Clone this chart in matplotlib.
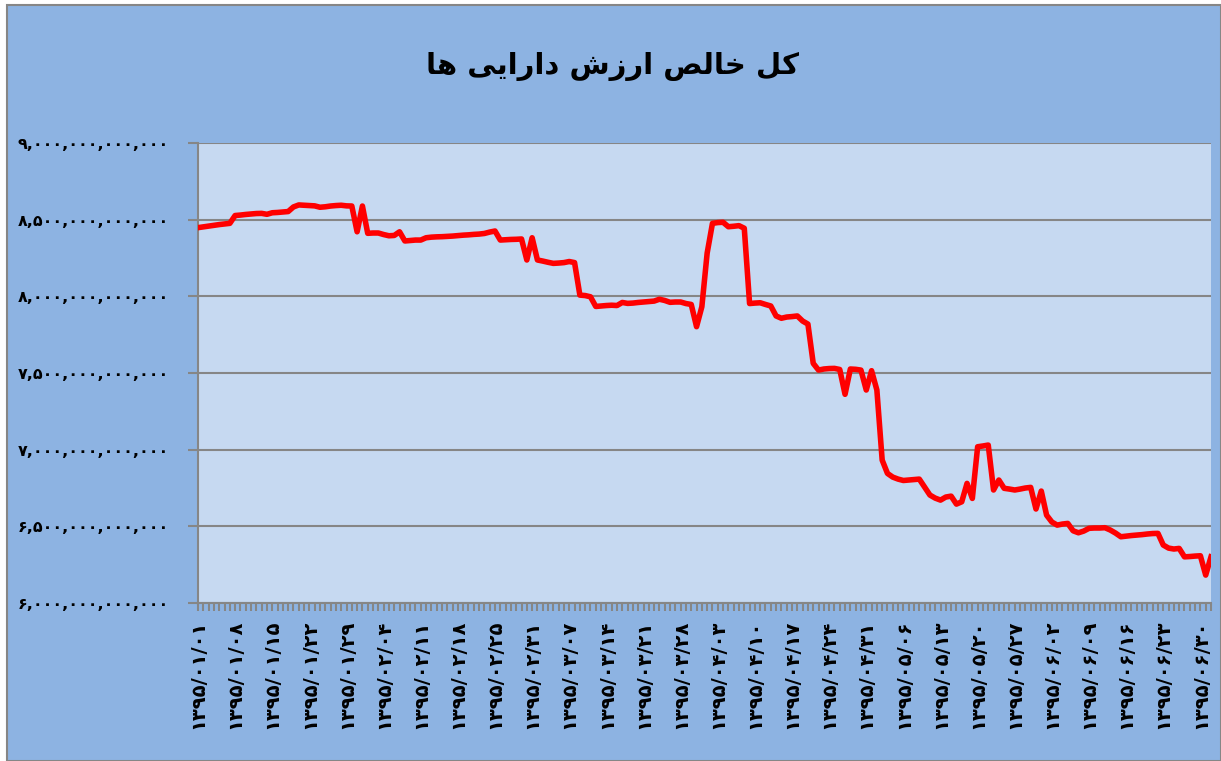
import matplotlib
matplotlib.use('Agg')
import matplotlib.pyplot as plt
from matplotlib.ticker import FuncFormatter, MultipleLocator
from matplotlib.patches import Rectangle

# title "کل خالص ارزش دارایی ها" written with Arabic presentation forms in visual order
# (matplotlib does no Arabic shaping / bidi on its own)
title = "\uFE8E\uFEEB \uFBFD\uFBFE\uFE8D\uFEAD\uFE8D\uFEA9 \uFEB5\uFEAF\uFEAD\uFE8D \uFEBA\uFEDF\uFE8E\uFEA7 \uFEDE\uFB90"

# x tick labels, one every 7 points
tick_labels = [
    "۱۳۹۵/۰۱/۰۱", "۱۳۹۵/۰۱/۰۸", "۱۳۹۵/۰۱/۱۵", "۱۳۹۵/۰۱/۲۲", "۱۳۹۵/۰۱/۲۹",
    "۱۳۹۵/۰۲/۰۴", "۱۳۹۵/۰۲/۱۱", "۱۳۹۵/۰۲/۱۸", "۱۳۹۵/۰۲/۲۵", "۱۳۹۵/۰۲/۳۱",
    "۱۳۹۵/۰۳/۰۷", "۱۳۹۵/۰۳/۱۴", "۱۳۹۵/۰۳/۲۱", "۱۳۹۵/۰۳/۲۸", "۱۳۹۵/۰۴/۰۳",
    "۱۳۹۵/۰۴/۱۰", "۱۳۹۵/۰۴/۱۷", "۱۳۹۵/۰۴/۲۴", "۱۳۹۵/۰۴/۳۱", "۱۳۹۵/۰۵/۰۶",
    "۱۳۹۵/۰۵/۱۳", "۱۳۹۵/۰۵/۲۰", "۱۳۹۵/۰۵/۲۷", "۱۳۹۵/۰۶/۰۲", "۱۳۹۵/۰۶/۰۹",
    "۱۳۹۵/۰۶/۱۶", "۱۳۹۵/۰۶/۲۳", "۱۳۹۵/۰۶/۳۰",
]
label_step = 7

# net asset value, in trillions
nav = [
    8.448, 8.453, 8.458, 8.463, 8.468, 8.472, 8.476, 8.527, 8.530, 8.534,
    8.537, 8.540, 8.541, 8.535, 8.545, 8.547, 8.550, 8.553, 8.583, 8.596,
    8.594, 8.592, 8.590, 8.581, 8.584, 8.589, 8.592, 8.594, 8.590, 8.589,
    8.421, 8.589, 8.411, 8.413, 8.413, 8.403, 8.395, 8.397, 8.421, 8.361,
    8.364, 8.367, 8.367, 8.382, 8.386, 8.388, 8.389, 8.391, 8.393, 8.396,
    8.399, 8.401, 8.404, 8.406, 8.410, 8.419, 8.426, 8.367, 8.369, 8.371,
    8.372, 8.374, 8.237, 8.382, 8.237, 8.230, 8.222, 8.215, 8.217, 8.220,
    8.227, 8.220, 8.008, 8.005, 7.997, 7.934, 7.937, 7.940, 7.942, 7.940,
    7.960, 7.954, 7.956, 7.960, 7.963, 7.966, 7.969, 7.981, 7.973, 7.961,
    7.963, 7.963, 7.953, 7.947, 7.802, 7.932, 8.282, 8.476, 8.481, 8.483,
    8.454, 8.457, 8.461, 8.444, 7.953, 7.956, 7.958, 7.947, 7.937, 7.872,
    7.857, 7.865, 7.868, 7.872, 7.839, 7.819, 7.563, 7.519, 7.526, 7.529,
    7.530, 7.523, 7.361, 7.526, 7.524, 7.519, 7.389, 7.515, 7.389, 6.932,
    6.845, 6.821, 6.808, 6.799, 6.802, 6.805, 6.808, 6.756, 6.704, 6.684,
    6.671, 6.691, 6.697, 6.645, 6.660, 6.780, 6.682, 7.019, 7.024, 7.030,
    6.737, 6.802, 6.748, 6.743, 6.737, 6.743, 6.750, 6.754, 6.613, 6.730,
    6.573, 6.528, 6.508, 6.515, 6.519, 6.471, 6.458, 6.469, 6.487, 6.489,
    6.489, 6.491, 6.476, 6.456, 6.432, 6.436, 6.440, 6.443, 6.446, 6.450,
    6.453, 6.454, 6.378, 6.358, 6.352, 6.356, 6.301, 6.303, 6.306, 6.308,
    6.182, 6.301,
]

FA = str.maketrans("0123456789", "۰۱۲۳۴۵۶۷۸۹")
GRID = '#868686'

W, H = 1221, 761
fig = plt.figure(figsize=(W / 100, H / 100), dpi=100)
fig.patch.set_facecolor('white')
# chart area (blue) with its grey border, behind the axes
fig.patches.append(Rectangle((7 / W, 0), 1 - 7 / W, 1 - 5 / H, transform=fig.transFigure,
                             facecolor='#8DB3E2', edgecolor=GRID, linewidth=1.5, zorder=-5))

ax = fig.add_axes([198 / W, 1 - 603 / H, (1211 - 198) / W, (603 - 143) / H])
ax.set_facecolor('#C6D9F1')

xs = list(range(len(nav)))
ax.plot(xs, [v * 1e12 for v in nav], color='#FF0000', lw=4, solid_joinstyle='round', zorder=3)

ax.set_xlim(0, len(nav) - 1)
ax.set_ylim(6e12, 9e12)
ax.yaxis.set_major_locator(MultipleLocator(0.5e12))
ax.yaxis.set_major_formatter(FuncFormatter(lambda v, p: f"{int(round(v)):,}".translate(FA)))
ax.grid(axis='y', color=GRID, lw=1.5)
ax.set_axisbelow(True)

ax.set_xticks(xs[::label_step])
ax.set_xticklabels(tick_labels, rotation=90, fontsize=14, fontweight='bold')
ax.set_xticks(xs, minor=True)
for lbl in ax.get_yticklabels():
    lbl.set_fontweight('bold')

ax.tick_params(axis='y', length=7, width=1.5, color=GRID, pad=14, labelsize=11.5)
ax.tick_params(axis='x', which='both', length=6, width=1.5, color=GRID, pad=6)

for s in ['top', 'right']:
    ax.spines[s].set_visible(False)
for s in ['left', 'bottom']:
    ax.spines[s].set_color(GRID)
    ax.spines[s].set_linewidth(1.5)

fig.text(612 / W, 1 - 66 / H, title, ha='center', va='center', fontsize=21, fontweight='bold')

fig.savefig('out.png', dpi=100)
